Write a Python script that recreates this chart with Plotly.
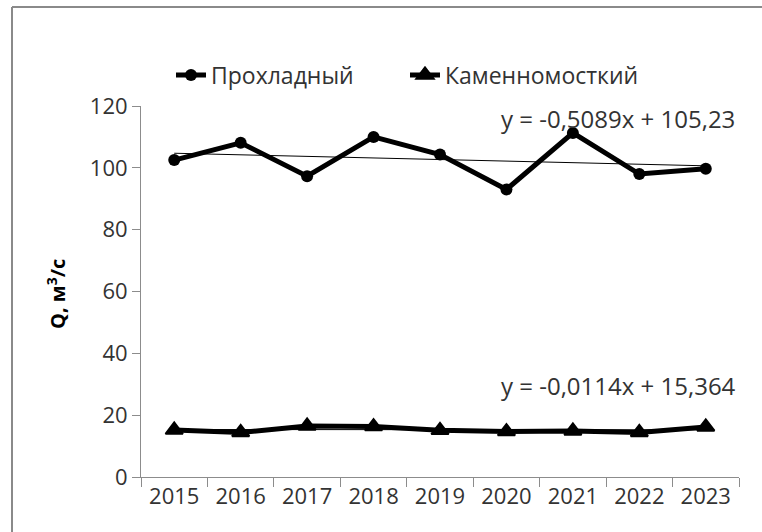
import plotly.graph_objects as go

# Annual discharge Q (m3/s) at two gauging stations
years = ["2015", "2016", "2017", "2018", "2019", "2020", "2021", "2022", "2023"]
prokhladny = [102.5, 108.1, 97.3, 110.0, 104.3, 93.0, 111.3, 98.0, 99.7]
kamennomostsky = [15.2, 14.4, 16.5, 16.3, 15.1, 14.7, 14.9, 14.4, 16.2]

# Linear trend coefficients (x = 1..9 over the years)
trend_prokhladny = (-0.5089, 105.23)
trend_kamennomostsky = (-0.0114, 15.364)

eq_prokhladny = "y = -0,5089x + 105,23"
eq_kamennomostsky = "y = -0,0114x + 15,364"

y_ticks = [0, 20, 40, 60, 80, 100, 120]

FONT = "Open Sans, Noto Sans, sans-serif"
TXT = "#333333"
AXIS = "#8c8c8c"

# plot-area geometry in pixels
W, H = 762, 532
L, R, T, B = 141, 23, 106, 55
pw, ph = W - L - R, H - T - B


def px_x(px):
    return (px - L) / pw


def px_y(py):
    return (H - B - py) / ph


def trend_ends(coef):
    k, b = coef
    return [years[0], years[-1]], [k * 1 + b, k * len(years) + b]


fig = go.Figure()

fig.add_trace(go.Scatter(
    x=years, y=prokhladny, name="Прохладный", mode="lines+markers",
    line=dict(color="black", width=5),
    marker=dict(symbol="circle", size=12, color="black"),
    cliponaxis=False))

fig.add_trace(go.Scatter(
    x=years, y=kamennomostsky, name="Каменномосткий", mode="lines+markers",
    line=dict(color="black", width=5),
    marker=dict(symbol="triangle-up", size=15, color="black",
                line=dict(color="black", width=2)),
    cliponaxis=False))

for coef in (trend_prokhladny, trend_kamennomostsky):
    tx, ty = trend_ends(coef)
    fig.add_trace(go.Scatter(x=tx, y=ty, mode="lines", showlegend=False,
                             line=dict(color="black", width=1), hoverinfo="skip"))

fig.add_annotation(text=eq_prokhladny, xref="paper", yref="paper",
                   x=px_x(618), y=px_y(119), xanchor="center", yanchor="middle",
                   showarrow=False, font=dict(family=FONT, size=24, color=TXT))
fig.add_annotation(text=eq_kamennomostsky, xref="paper", yref="paper",
                   x=px_x(618), y=px_y(385), xanchor="center", yanchor="middle",
                   showarrow=False, font=dict(family=FONT, size=24, color=TXT))

fig.add_annotation(text="<b>Q, м<sup>3</sup>/с</b>", xref="paper", yref="paper",
                   x=px_x(56), y=px_y(294), xanchor="center", yanchor="middle",
                   showarrow=False, textangle=-90,
                   font=dict(family=FONT, size=20, color="black"))

# chart frame: left and top edges
frame = dict(color="#8a8a8a", width=2)
fig.add_shape(type="line", xref="paper", yref="paper",
              x0=px_x(12), x1=px_x(12), y0=px_y(H + 5), y1=px_y(7), line=frame)
fig.add_shape(type="line", xref="paper", yref="paper",
              x0=px_x(12), x1=px_x(W + 5), y0=px_y(7), y1=px_y(7), line=frame)

fig.update_layout(
    width=W, height=H,
    margin=dict(l=L, r=R, t=T, b=B),
    paper_bgcolor="white", plot_bgcolor="white",
    font=dict(family=FONT, size=22, color=TXT),
    showlegend=True,
    legend=dict(orientation="h", x=px_x(171), y=px_y(75),
                xanchor="left", yanchor="middle",
                font=dict(family=FONT, size=23, color=TXT),
                entrywidth=189, entrywidthmode="pixels",
                bgcolor="rgba(0,0,0,0)"),
    xaxis=dict(type="category", categoryorder="array", categoryarray=years,
               range=[-0.5, len(years) - 0.5],
               showline=True, linecolor=AXIS, linewidth=1,
               ticks="outside", tickson="boundaries", ticklen=9,
               tickcolor=AXIS, showgrid=False, zeroline=False,
               tickfont=dict(family=FONT, size=22, color=TXT)),
    yaxis=dict(range=[0, 120], tickvals=y_ticks,
               showline=True, linecolor=AXIS, linewidth=1,
               ticks="outside", ticklen=8, tickcolor=AXIS,
               showgrid=False, zeroline=False,
               tickfont=dict(family=FONT, size=22, color=TXT)),
)

fig.write_html("out.html")
